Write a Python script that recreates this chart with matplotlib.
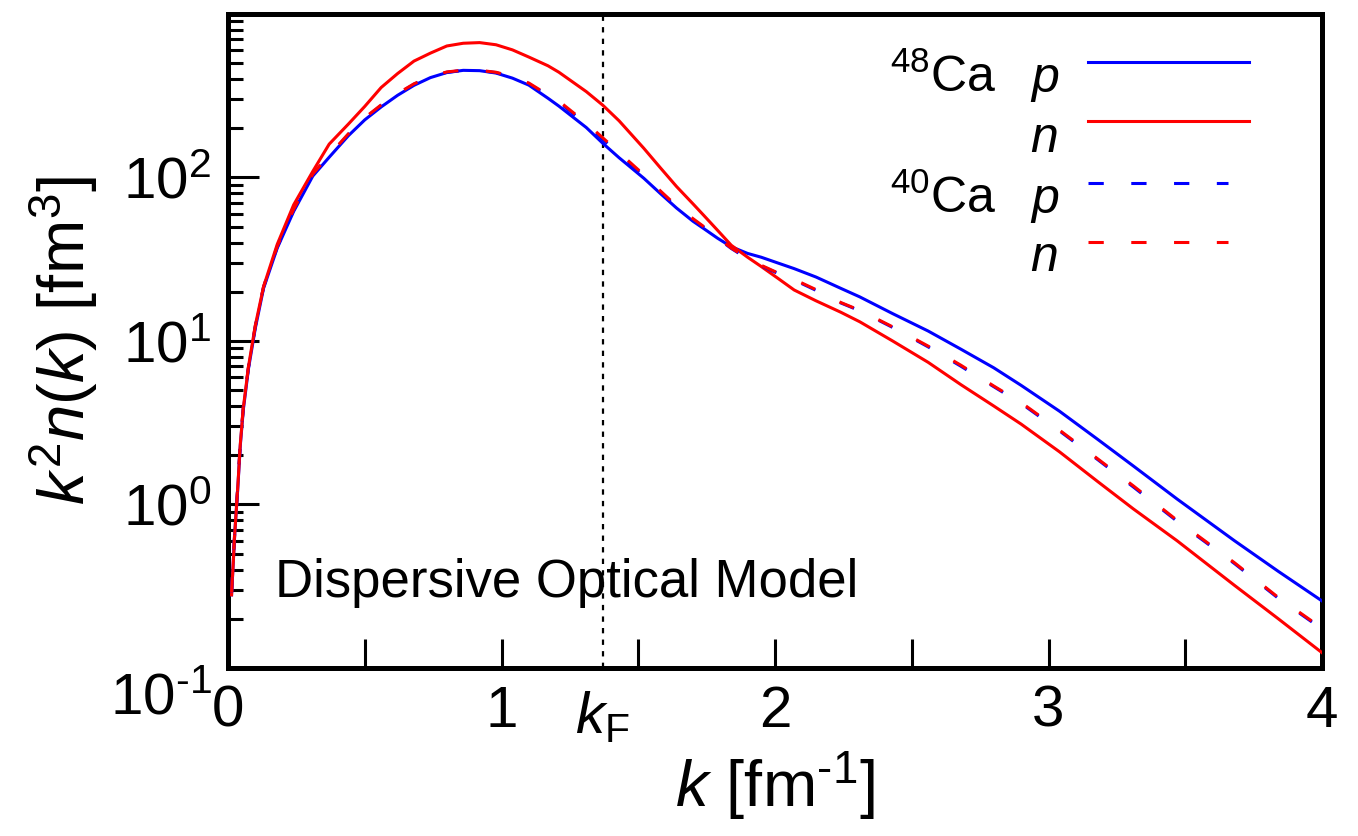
import matplotlib
matplotlib.use("Agg")
import matplotlib.pyplot as plt
from matplotlib.ticker import FixedLocator, LogLocator, NullFormatter
from matplotlib.transforms import ScaledTranslation, blended_transform_factory

plt.rcParams['font.family'] = ['Liberation Sans', 'DejaVu Sans']
plt.rcParams['mathtext.fontset'] = 'custom'
plt.rcParams['mathtext.rm'] = 'Liberation Sans'
plt.rcParams['mathtext.it'] = 'Liberation Sans:italic'
plt.rcParams['mathtext.bf'] = 'Liberation Sans:bold'

# momentum grid [fm^-1]
k = [0.013, 0.025, 0.035, 0.045, 0.056, 0.075, 0.10, 0.13, 0.18, 0.24,
     0.31, 0.37, 0.44, 0.50, 0.56, 0.62, 0.68, 0.74, 0.80, 0.86,
     0.92, 0.98, 1.04, 1.10, 1.17, 1.21, 1.31, 1.37, 1.43, 1.52,
     1.58, 1.64, 1.70, 1.74, 1.79, 1.84, 1.90, 1.95, 2.01, 2.07,
     2.15, 2.24, 2.31, 2.43, 2.56, 2.68, 2.80, 2.90, 3.04, 3.18,
     3.31, 3.47, 3.68, 3.84, 4.00]

# k^2 n(k) [fm^3]
ca48_p = [0.28, 0.68, 1.2, 2.3, 3.8, 6.8, 12, 21, 37, 62,
          102, 133, 180, 225, 270, 318, 366, 408, 438, 452,
          450, 435, 405, 367, 305, 273, 202, 162, 132, 99,
          80, 65, 54, 48.6, 42.5, 37.7, 34.3, 32.5, 30, 27.7,
          24.6, 21.0, 18.6, 14.7, 11.5, 8.9, 6.85, 5.35, 3.72, 2.5,
          1.72, 1.08, 0.6, 0.39, 0.257]

ca48_n = [0.28, 0.68, 1.22, 2.35, 3.9, 7.0, 12.5, 21.5, 39, 68,
          109, 160, 212, 272, 355, 432, 515, 576, 637, 662,
          668, 648, 603, 545, 482, 440, 335, 277, 222, 151,
          115, 88, 69, 58.5, 47.5, 38.5, 32.5, 28.5, 24.2, 20.5,
          17.6, 15.0, 13.1, 10.0, 7.4, 5.4, 4.0, 3.1, 2.1, 1.38,
          0.94, 0.6, 0.32, 0.2, 0.124]

ca40_p = [0.29, 0.70, 1.23, 2.38, 3.9, 6.9, 12.3, 21.3, 37.5, 63,
          104, 136, 183, 230, 276, 324, 372, 412, 440, 452,
          451, 438, 411, 374, 316, 289, 211, 171, 139, 102,
          82, 66, 55, 49.5, 42.5, 36.8, 31.8, 28.8, 25.9, 23.6,
          20.4, 17.1, 15.3, 12.1, 9.2, 7.0, 5.25, 4.15, 2.82, 1.88,
          1.28, 0.79, 0.435, 0.267, 0.173]

ca40_n = [0.29, 0.70, 1.24, 2.4, 3.95, 7.0, 12.4, 21.5, 38, 64,
          105, 137, 185, 232, 278, 326, 374, 414, 442, 453,
          452, 440, 414, 378, 320, 293, 215, 175, 142, 104,
          83, 67, 56, 50, 43, 37, 32, 29, 26.1, 23.8,
          20.6, 17.2, 15.4, 12.2, 9.3, 7.1, 5.3, 4.2, 2.85, 1.9,
          1.3, 0.8, 0.44, 0.27, 0.175]

KF = 1.37  # Fermi momentum

BLUE = '#0000ff'
RED = '#ff0000'
LW = 2.2
DASH = (5, 9)

fig = plt.figure(figsize=(13.58, 8.36), dpi=100)
ax = fig.add_axes([0.1679, 0.2010, 0.8056, 0.7823])

ax.plot(k, ca48_p, color=BLUE, lw=LW, zorder=3)
ax.plot(k, ca48_n, color=RED, lw=LW, zorder=4)
ax.plot(k, ca40_p, color=BLUE, lw=LW, dashes=DASH, zorder=5)
ax.plot(k, ca40_n, color=RED, lw=LW, dashes=DASH, zorder=6)

ax.axvline(KF, color='black', lw=1.6, dashes=(2.4, 2.8), zorder=2)

ax.set_yscale('log')
ax.set_xlim(0, 4)
ax.set_ylim(0.1, 1000)

# axes frame and ticks
for sp in ax.spines.values():
    sp.set_linewidth(3.6)

ax.xaxis.set_major_locator(FixedLocator([0, 0.5, 1, 1.5, 2, 2.5, 3, 3.5, 4]))
ax.set_xticklabels(['0', '', '1', '', '2', '', '3', '', '4'])
ax.yaxis.set_major_locator(FixedLocator([0.1, 1, 10, 100]))
ax.set_yticklabels([r'10$^{\text{-}1}$', '10$^{0}$', '10$^{1}$', '10$^{2}$'])
ax.yaxis.set_minor_locator(LogLocator(base=10, subs=range(2, 10), numticks=20))
ax.yaxis.set_minor_formatter(NullFormatter())

ax.tick_params(axis='both', which='both', direction='in', top=False, right=False)
ax.tick_params(axis='x', which='major', length=21, width=2.2, labelsize=42, pad=12)
ax.tick_params(axis='y', which='major', length=22, width=2.2, labelsize=42, pad=12)
ax.tick_params(axis='y', which='minor', length=11, width=2.2)

# lowest y label sits below the corner
lab = ax.yaxis.get_major_ticks()[0].label1
lab.set_transform(lab.get_transform() + ScaledTranslation(0, -0.25, fig.dpi_scale_trans))

# k_F label under the dotted line
trans = blended_transform_factory(ax.transData, ax.transAxes)
ax.text(KF, -0.034, r'$k_{\mathrm{F}}$', transform=trans, ha='center', va='top', fontsize=42)

ax.set_xlabel(r'$k$ [fm$^{\text{-}1}$]', fontsize=47, labelpad=8)
ax.set_ylabel(r'$k^2n(k)$ [fm$^3$]', fontsize=47)
ax.yaxis.set_label_coords(-0.117, 0.5)

ax.text(0.043, 0.1086, 'Dispersive Optical Model', transform=ax.transAxes,
        fontsize=38, ha='left', va='baseline')

# legend, drawn by hand: nucleus label, nucleon label, line sample
rows = [
    ('$^{48}$Ca', '$p$', BLUE, None, 0.9266, 0.8807),
    ('', '$n$', RED, None, 0.8364, 0.789),
    ('$^{40}$Ca', '$p$', BLUE, DASH, 0.7416, 0.6957),
    ('', '$n$', RED, DASH, 0.6514, 0.607),
]
for nucleus, nucleon, color, dashes, y_line, y_text in rows:
    if nucleus:
        ax.text(0.703, y_text, nucleus, transform=ax.transAxes, fontsize=36,
                ha='right', va='baseline')
    ax.text(0.733, y_text, nucleon, transform=ax.transAxes, fontsize=36,
            ha='left', va='baseline')
    x_end = 0.9333 if dashes is None else 0.9141
    kw = {} if dashes is None else {'dashes': dashes}
    ax.plot([0.7861, x_end], [y_line, y_line], transform=ax.transAxes,
            color=color, lw=LW, clip_on=False, **kw)

fig.savefig('out.png', dpi=100)
